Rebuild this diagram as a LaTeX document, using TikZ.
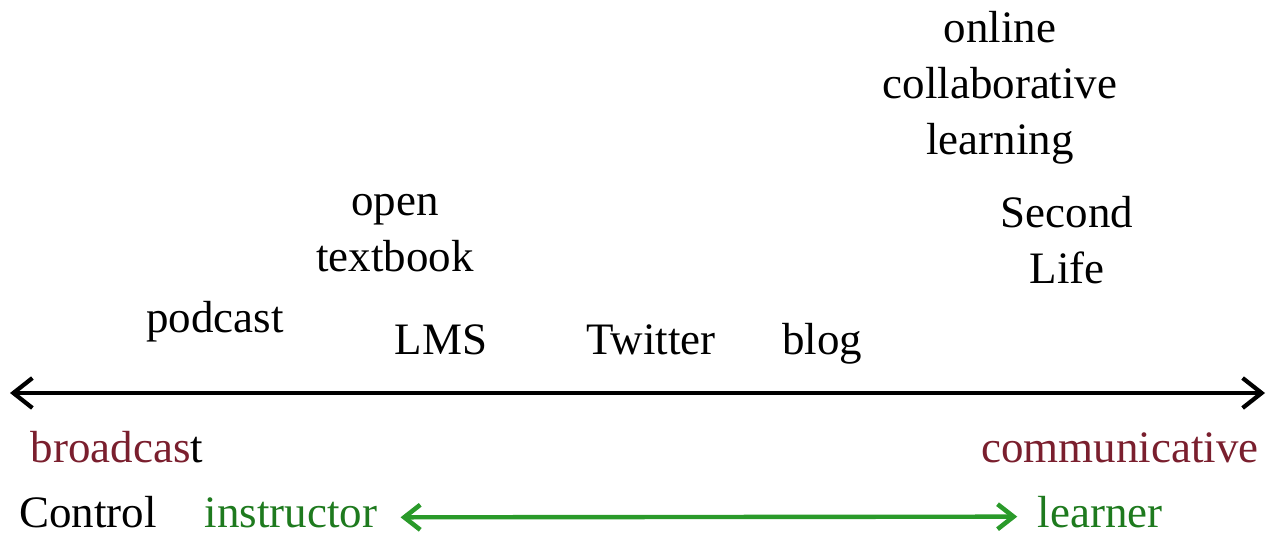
\documentclass[tikz,border=0pt]{standalone}
\usepackage{fontspec}
\setmainfont{Liberation Serif}
\usepackage{tikz}
\usetikzlibrary{arrows.meta, positioning}
\definecolor{castred}{HTML}{7A1F2E}
\definecolor{ctrlgreen}{HTML}{1E7A1E}
\definecolor{spangreen}{HTML}{2A9A2A}
\tikzset{
  medium/.style={inner sep=0pt, align=center, font=\fontsize{25.6}{31.9}\selectfont},
  endlabel/.style={medium, anchor=base},
  span/.style={draw=black, line width=1.8pt,
               {Straight Barb[length=3.8mm, width=6mm, line width=2.4pt]}-{Straight Barb[length=3.8mm, width=6mm, line width=2.4pt]}},
  ctrlspan/.style={draw=spangreen, line width=2.5pt,
               {Straight Barb[length=3.2mm, width=5mm, line width=2.6pt]}-{Straight Barb[length=3.2mm, width=5mm, line width=2.6pt]}},
}
\begin{document}
\begin{tikzpicture}[x=0.02cm, y=-0.02cm]
\useasboundingbox (0,0) rectangle (1277,535);
\node[medium] (online) at (1000,88) {online\\collaborative\\learning};
\node[medium] (secondlife) at (1067,240) {Second\\Life};
\node[medium] (textbook) at (395,233) {open\\textbook};
\node[endlabel] (podcast) at (215,332) {podcast};
\node[endlabel] (lms) at (441,354) {LMS};
\node[endlabel] (twitter) at (651,354) {Twitter};
\node[endlabel] (blog) at (822,354) {blog};
\coordinate (spanl) at (10,393);
\coordinate (spanr) at (1265,393);
\node[endlabel] (broadcast) at (117,462) {{\color{castred}broadcas}t};
\node[endlabel, text=castred] (communicative) at (1120,462) {communicative};
\node[endlabel] (control) at (88,527) {Control};
\node[endlabel, text=ctrlgreen] (instructor) at (291,527) {instructor};
\node[endlabel, text=ctrlgreen] (learner) at (1100,527) {learner};
\draw[span] (spanl) -- (spanr);
\draw[ctrlspan, shorten <=0.46cm, shorten >=0.4cm] ([yshift=-0.1cm]instructor.east) -- ([yshift=-0.1cm]learner.west);
\end{tikzpicture}
\end{document}
